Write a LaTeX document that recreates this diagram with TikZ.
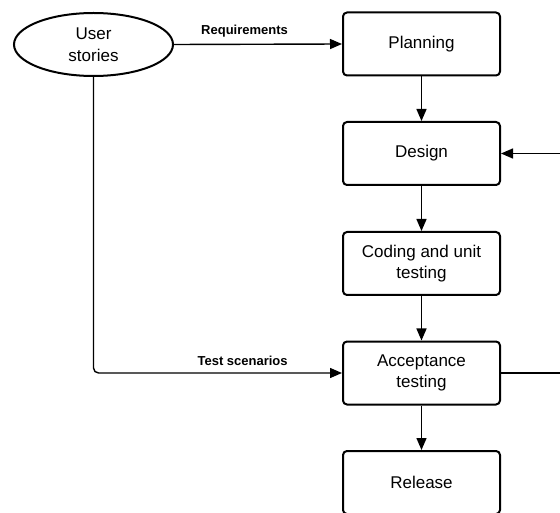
\documentclass[tikz,border=0pt]{standalone}
\usepackage{fontspec}
\setmainfont{Liberation Sans}
\usetikzlibrary{arrows.meta,shapes.geometric}
\begin{document}
\begin{tikzpicture}[x=1pt,y=-1pt,
  stage/.style={draw,line width=2pt,rounded corners=4pt,minimum width=157pt,minimum height=63pt,
     align=center,font=\fontsize{17}{21.5}\selectfont,inner sep=0pt},
  story/.style={draw,line width=2pt,ellipse,minimum width=159pt,minimum height=63pt,inner sep=0pt,
     align=center,font=\fontsize{17}{22}\selectfont},
  conn/.style={line width=1.4pt,-{Triangle[length=12pt,width=10pt]}},
  lbl/.style={font=\bfseries\fontsize{13}{15}\selectfont}]
\useasboundingbox (0,0) rectangle (560,513);
\node[story] (us) at (93.5,44.5) {User\\stories};
\node[stage] (plan) at (421.5,44) {Planning};
\node[stage] (design) at (421.5,153.5) {Design};
\node[stage] (code) at (421.5,263.5) {Coding and unit\\testing};
\node[stage] (acc) at (421.5,373) {Acceptance\\testing};
\node[stage] (rel) at (421.5,482.5) {Release};
\coordinate (r1) at (575,373);
\coordinate (r2) at (575,153.5);
\draw[conn] (us.east) -- node[lbl,above=3pt,pos=0.42] {Requirements} (plan.west);
\draw[conn] (plan) -- (design);
\draw[conn] (design) -- (code);
\draw[conn] (code) -- (acc);
\draw[conn] (acc) -- (rel);
\draw[conn,rounded corners=5pt] (us.south) |- node[lbl,above=3pt,pos=0.8] {Test scenarios} (acc.west);
\draw[conn] (acc.east) -- (r1) -- (r2) -- (design.east);
\end{tikzpicture}
\end{document}
